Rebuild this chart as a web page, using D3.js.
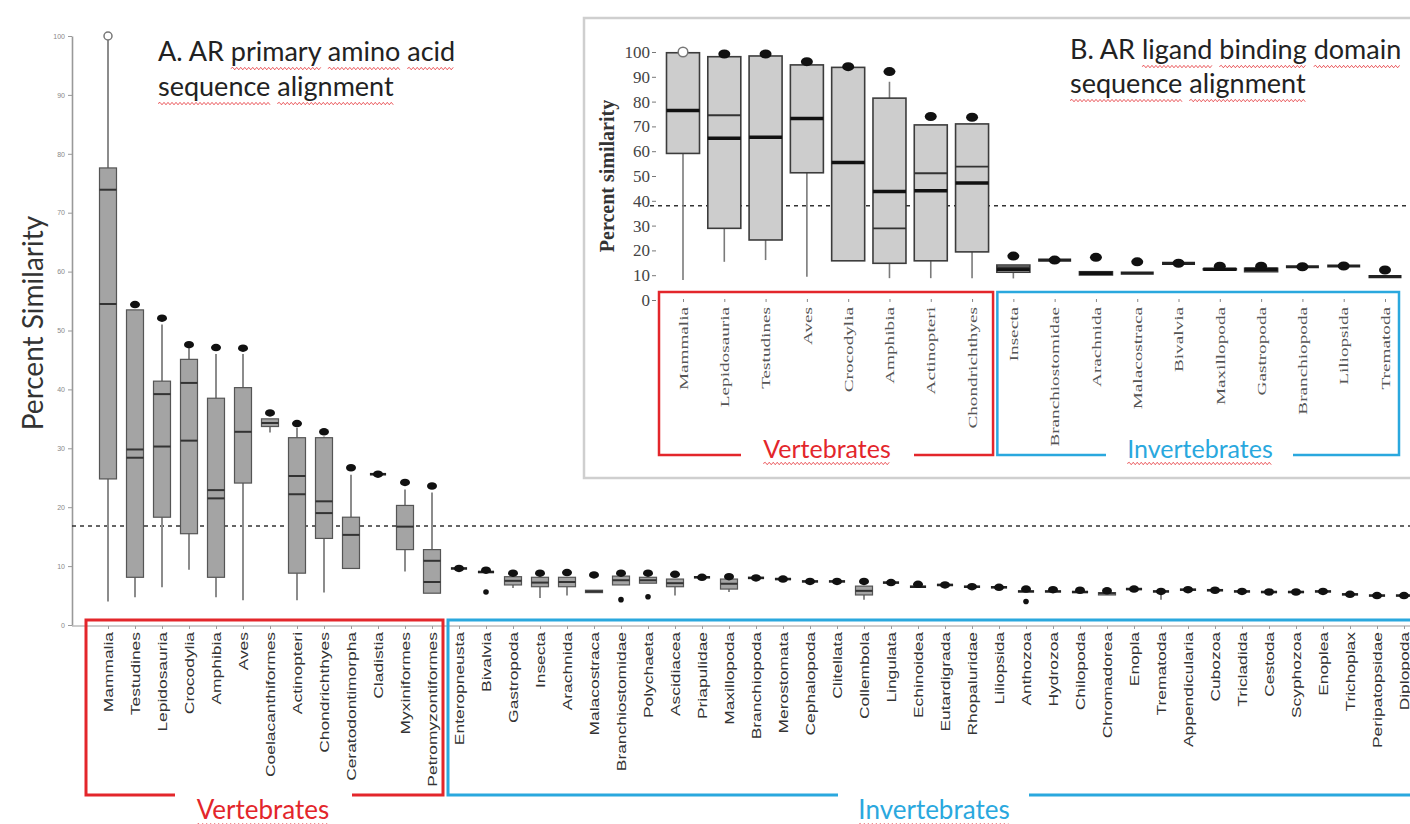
<!DOCTYPE html>
<html>
<head>
<meta charset="utf-8">
<script src="https://cdn.jsdelivr.net/npm/d3@7"></script>
<style>
  body { margin: 0; background: #fff; }
  svg { display: block; }
</style>
</head>
<body>
<div id="chart"></div>
<script>
// ---- Panel A : AR primary amino acid sequence alignment ----
var vertebratesA = ["Mammalia", "Testudines", "Lepidosauria", "Crocodylia", "Amphibia", "Aves",
  "Coelacanthiformes", "Actinopteri", "Chondrichthyes", "Ceratodontimorpha", "Cladistia",
  "Myxiniformes", "Petromyzontiformes"];
var invertebratesA = ["Enteropneusta", "Bivalvia", "Gastropoda", "Insecta", "Arachnida", "Malacostraca",
  "Branchiostomidae", "Polychaeta", "Ascidiacea", "Priapulidae", "Maxillopoda", "Branchiopoda",
  "Merostomata", "Cephalopoda", "Clitellata", "Collembola", "Lingulata", "Echinoidea", "Eutardigrada",
  "Rhopaluridae", "Liliopsida", "Anthozoa", "Hydrozoa", "Chilopoda", "Chromadorea", "Enopla",
  "Trematoda", "Appendicularia", "Cubozoa", "Tricladida", "Cestoda", "Scyphozoa", "Enoplea",
  "Trichoplax", "Peripatopsidae", "Diplopoda"];
var taxaA = vertebratesA.concat(invertebratesA);

var whiskerLoA = [4.0, 4.7, 6.4, 9.4, 4.7, 4.2, 32.7, 4.2, 5.5, 9.6, 25.6, 9.1, 5.4,
  9.6, 9.0, 6.3, 4.6, 5.0, 5.5, 6.8, 7.1, 5.0, 8.1, 5.6, 8.0, 7.8, 7.4, 7.4, 4.3, 7.2, 6.5, 6.8,
  6.5, 6.4, 5.7, 5.7, 5.6, 5.1, 6.1, 4.3, 6.0, 5.9, 5.7, 5.6, 5.6, 5.7, 5.2, 5.0, 5.0];
var q1A = [24.8, 8.1, 18.3, 15.5, 8.1, 24.1, 33.7, 8.8, 14.7, 9.6, 25.6, 12.8, 5.4,
  9.6, 9.0, 6.8, 6.5, 6.5, 5.5, 6.8, 7.1, 6.5, 8.1, 6.1, 8.0, 7.8, 7.4, 7.4, 5.1, 7.2, 6.5, 6.8,
  6.5, 6.4, 5.7, 5.7, 5.6, 5.1, 6.1, 5.7, 6.0, 5.9, 5.7, 5.6, 5.6, 5.7, 5.2, 5.0, 5.0];
var medianA = [54.5, 28.4, 30.3, 31.3, 21.5, 32.8, 34.3, 22.2, 19.0, 15.3, 25.6, 16.7, 7.3,
  9.6, 9.0, 7.5, 7.2, 7.3, 5.7, 7.6, 7.6, 7.1, 8.1, 7.0, 8.0, 7.8, 7.4, 7.4, 5.8, 7.2, 6.5, 6.8,
  6.5, 6.4, 5.7, 5.7, 5.6, 5.4, 6.1, 5.7, 6.0, 5.9, 5.7, 5.6, 5.6, 5.7, 5.2, 5.0, 5.0];
var secondLineA = [73.9, 29.8, 39.2, 41.1, 22.9, null, null, 25.3, 21.0, null, null, null, 10.9];
var q3A = [77.6, 53.5, 41.4, 45.1, 38.5, 40.3, 35.0, 31.8, 31.8, 18.3, 25.6, 20.3, 12.8,
  9.6, 9.0, 8.2, 8.1, 8.1, 5.9, 8.3, 8.1, 7.8, 8.1, 7.8, 8.0, 7.8, 7.4, 7.4, 6.6, 7.2, 6.5, 6.8,
  6.5, 6.4, 5.7, 5.7, 5.6, 5.5, 6.1, 5.7, 6.0, 5.9, 5.7, 5.6, 5.6, 5.7, 5.2, 5.0, 5.0];
var whiskerHiA = [100, 53.5, 51.0, 47.0, 46.0, 46.0, 35.0, 33.5, 32.0, 25.5, 25.6, 23.0, 22.5];
var outlierHiA = [100, 54.4, 52.1, 47.6, 47.1, 47.0, 36.0, 34.2, 32.8, 26.7, 25.6, 24.2, 23.6,
  9.6, 9.3, 8.8, 8.8, 8.9, 8.5, 8.8, 8.8, 8.6, 8.1, 8.2, 8.0, 7.8, 7.4, 7.4, 7.4, 7.2, 6.9, 6.8,
  6.5, 6.4, 6.1, 6.0, 5.9, 5.8, 6.1, 5.7, 6.0, 5.9, 5.7, 5.6, 5.6, 5.7, 5.2, 5.0, 5.0];
var outlierLoA = { "Bivalvia": 5.6, "Branchiostomidae": 4.3, "Polychaeta": 4.8, "Anthozoa": 4.0 };
var thresholdA = 16.8;
var ticksA = [0, 10, 20, 30, 40, 50, 60, 70, 80, 90, 100];

// ---- Panel B : AR ligand binding domain sequence alignment ----
var vertebratesB = ["Mammalia", "Lepidosauria", "Testudines", "Aves", "Crocodylia", "Amphibia",
  "Actinopteri", "Chondrichthyes"];
var invertebratesB = ["Insecta", "Branchiostomidae", "Arachnida", "Malacostraca", "Bivalvia",
  "Maxillopoda", "Gastropoda", "Branchiopoda", "Liliopsida", "Trematoda"];
var taxaB = vertebratesB.concat(invertebratesB);

var whiskerLoB = [8.1, 15.4, 16.1, 9.4, 15.8, 8.8, 8.8, 8.8, 8.7, 16.1, 10.1, 10.8, 14.8, 12.4, 11.4, 13.4, 13.7, 9.4];
var q1B = [59.1, 28.9, 24.2, 51.3, 15.8, 14.8, 15.8, 19.4, 11.2, 16.1, 10.1, 10.8, 14.8, 12.2, 11.4, 13.4, 13.7, 9.4];
var medianB = [76.4, 65.2, 65.6, 73.2, 55.4, 43.7, 44.1, 47.2, 12.4, 16.1, 10.8, 10.8, 14.8, 12.4, 12.4, 13.4, 13.7, 9.4];
var secondLineB = [null, 74.5, null, null, null, 28.9, 51.1, 53.8, 13.2];
var q3B = [99.7, 98.1, 98.4, 94.8, 93.8, 81.4, 70.6, 71.0, 14.1, 16.1, 11.4, 10.8, 14.8, 12.6, 12.8, 13.4, 13.7, 9.4];
var whiskerHiB = [99.7, 98.1, 98.4, 94.8, 93.8, 88.0, 70.6, 71.0];
var outlierHiB = [100, 99.2, 99.2, 96.1, 94.1, 92.1, 74.0, 73.7, 17.7, 16.1, 17.2, 15.4, 14.8, 13.6, 13.6, 13.4, 13.7, 12.1];
var thresholdB = 38.0;
var ticksB = [0, 10, 20, 30, 40, 50, 60, 70, 80, 90, 100];

var openCircle = ["Mammalia"];

var RED = "#e3262b", BLUE = "#2aa8de";

var width = 1410, height = 824;
var svg = d3.select("#chart").append("svg")
    .attr("width", width)
    .attr("height", height)
    .style("font-family", "Lato, 'Open Sans', sans-serif");

function squiggle(g, x0, x1, y, color) {
  var d = "M" + x0 + "," + y, up = true;
  for (var x = x0 + 2; x <= x1; x += 2) {
    d += " L" + x + "," + (y + (up ? -1.2 : 1.2));
    up = !up;
  }
  g.append("path").attr("d", d).attr("fill", "none")
    .attr("stroke", color).attr("stroke-width", 0.9).attr("opacity", 0.85);
}

// text line whose listed words get the spell-check wave under them
function titleLine(g, x, y, str, size, fill, marked) {
  var t = g.append("text").attr("x", x).attr("y", y)
    .attr("font-size", size).attr("fill", fill).text(str);
  var node = t.node();
  marked.forEach(function(w) {
    var i = str.indexOf(w);
    if (i < 0) return;
    var a = node.getExtentOfChar(i), b = node.getExtentOfChar(i + w.length - 1);
    squiggle(g, a.x, b.x + b.width, y + size * 0.28, RED);
  });
  return t;
}

function bracket(g, x0, x1, yTop, yBot, gap0, gap1, color, w) {
  g.append("path")
    .attr("d", "M" + gap0 + "," + yBot + "H" + x0 + "V" + yTop + "H" + x1 + "V" + yBot + "H" + gap1)
    .attr("fill", "none").attr("stroke", color).attr("stroke-width", w);
}

function groupLabel(g, x, y, str, size, color) {
  var t = g.append("text").attr("x", x).attr("y", y).attr("text-anchor", "middle")
    .attr("font-size", size).attr("fill", color).text(str);
  var b = t.node().getBBox();
  squiggle(g, b.x, b.x + b.width, y + size * 0.22, RED);
}

function drawBoxes(g, x, y, taxa, lo, q1, med, second, q3, hi, outHi, outLo, st) {
  taxa.forEach(function(name, i) {
    var cx = x(name), h = st.bw / 2;
    var top = hi[i] != null ? hi[i] : q3[i];
    if (top > q3[i]) {
      g.append("line").attr("x1", cx).attr("x2", cx).attr("y1", y(q3[i])).attr("y2", y(top))
        .attr("stroke", st.whisker).attr("stroke-width", st.ww);
    }
    if (lo[i] < q1[i]) {
      g.append("line").attr("x1", cx).attr("x2", cx).attr("y1", y(q1[i])).attr("y2", y(lo[i]))
        .attr("stroke", st.whisker).attr("stroke-width", st.ww);
    }
    if (q3[i] - q1[i] > 0.25) {
      g.append("rect").attr("x", cx - h).attr("width", st.bw)
        .attr("y", y(q3[i])).attr("height", y(q1[i]) - y(q3[i]))
        .attr("fill", st.fill).attr("stroke", st.stroke).attr("stroke-width", st.sw);
      g.append("line").attr("x1", cx - h).attr("x2", cx + h)
        .attr("y1", y(med[i])).attr("y2", y(med[i]))
        .attr("stroke", st.med).attr("stroke-width", st.mw);
    } else {
      g.append("line").attr("x1", cx - h * st.flat).attr("x2", cx + h * st.flat)
        .attr("y1", y(med[i])).attr("y2", y(med[i]))
        .attr("stroke", "#222").attr("stroke-width", st.fw);
    }
    if (second[i] != null) {
      g.append("line").attr("x1", cx - h).attr("x2", cx + h)
        .attr("y1", y(second[i])).attr("y2", y(second[i]))
        .attr("stroke", "#333").attr("stroke-width", st.thin);
    }
    var open = i === 0 && openCircle.indexOf(name) >= 0;
    g.append("ellipse").attr("cx", cx).attr("cy", y(outHi[i]))
      .attr("rx", open ? st.r * 0.8 : st.r).attr("ry", open ? st.r * 0.8 : st.r * 0.75)
      .attr("fill", open ? "#fff" : "#111")
      .attr("stroke", open ? "#777" : "none").attr("stroke-width", 1.5);
    if (outLo && outLo[name] != null) {
      g.append("circle").attr("cx", cx).attr("cy", y(outLo[name])).attr("r", 2.8).attr("fill", "#111");
    }
  });
}

// ================= Panel A =================
var xA = d3.scalePoint().domain(taxaA).range([108, 1404]);
var yA = d3.scaleLinear().domain([0, 100]).range([625, 36]);
var gA = svg.append("g");

var axA = gA.append("g").attr("transform", "translate(72,0)")
  .call(d3.axisLeft(yA).tickValues(ticksA).tickSize(4).tickSizeOuter(0));
axA.select(".domain").attr("stroke", "#999").attr("stroke-width", 1.6);
axA.selectAll(".tick line").attr("stroke", "#999");
axA.selectAll(".tick text").attr("font-size", 7).attr("fill", "#888");

gA.append("line").attr("x1", 72).attr("x2", width).attr("y1", yA(0) + 1).attr("y2", yA(0) + 1)
  .attr("stroke", "#999").attr("stroke-width", 1.2);

gA.append("text")
  .attr("transform", "translate(43,323) rotate(-90)")
  .attr("text-anchor", "middle").attr("font-size", 28).attr("fill", "#333")
  .text("Percent Similarity");

gA.append("line").attr("x1", 72).attr("x2", width)
  .attr("y1", yA(thresholdA)).attr("y2", yA(thresholdA))
  .attr("stroke", "#333").attr("stroke-width", 1.6).attr("stroke-dasharray", "4,4");

drawBoxes(gA, xA, yA, taxaA, whiskerLoA, q1A, medianA, secondLineA, q3A, whiskerHiA, outlierHiA, outlierLoA,
  { bw: 17, fill: "#a4a4a4", stroke: "#555", sw: 1.2, whisker: "#8c8c8c", ww: 2, med: "#333", mw: 2,
    thin: 2, r: 5, flat: 0.95, fw: 2.6 });

var axXA = gA.append("g").attr("transform", "translate(0," + (yA(0) + 1) + ")")
  .call(d3.axisBottom(xA).tickSize(3).tickSizeOuter(0));
axXA.select(".domain").remove();
axXA.selectAll(".tick line").attr("stroke", "#999");
axXA.selectAll(".tick text")
  .attr("x", 0).attr("y", 0).attr("dy", "0.35em")
  .attr("text-anchor", "end").attr("font-size", 12).attr("fill", "#333")
  .attr("transform", "translate(0,6) rotate(-90) scale(1.45,1)");

var vL = xA(vertebratesA[0]) - 22, vR = xA(vertebratesA[vertebratesA.length - 1]) + 11;
var iL = xA(invertebratesA[0]) - 11;
bracket(gA, vL, vR, 620, 795, 175, 352, RED, 3);
bracket(gA, iL, width + 10, 620, 795, 838, 1029, BLUE, 3);
groupLabel(gA, 263, 819, "Vertebrates", 26, RED);
groupLabel(gA, 934, 819, "Invertebrates", 26, BLUE);

titleLine(gA, 158, 61, "A. AR primary amino acid", 27, "#222", ["primary", "amino", "acid"]);
titleLine(gA, 158, 96, "sequence alignment", 27, "#222", ["sequence", "alignment"]);

// ================= Panel B (inset) =================
var gB = svg.append("g");
gB.append("rect").attr("x", 584).attr("y", 18).attr("width", 860).attr("height", 460)
  .attr("fill", "#fff").attr("stroke", "#cfcfcf").attr("stroke-width", 2.5);

var xB = d3.scalePoint().domain(taxaB).range([683, 1385]);
var yB = d3.scaleLinear().domain([0, 100]).range([300, 52]);

var axB = gB.append("g").attr("transform", "translate(656,0)")
  .call(d3.axisLeft(yB).tickValues(ticksB).tickSize(4).tickSizeOuter(0).tickPadding(2));
axB.select(".domain").remove();
axB.selectAll(".tick line").attr("stroke", "#777");
axB.selectAll(".tick text").attr("font-family", "'Liberation Serif', serif")
  .attr("font-size", 17).attr("fill", "#444");

gB.append("text")
  .attr("transform", "translate(614,176) rotate(-90)")
  .attr("text-anchor", "middle").attr("font-family", "'Liberation Serif', serif")
  .attr("font-weight", "bold").attr("font-size", 20).attr("fill", "#333")
  .text("Percent similarity");

gB.append("line").attr("x1", 650).attr("x2", width)
  .attr("y1", yB(thresholdB)).attr("y2", yB(thresholdB))
  .attr("stroke", "#333").attr("stroke-width", 1.5).attr("stroke-dasharray", "4,4");

drawBoxes(gB, xB, yB, taxaB, whiskerLoB, q1B, medianB, secondLineB, q3B, whiskerHiB, outlierHiB, null,
  { bw: 33, fill: "#cdcdcd", stroke: "#3c3c3c", sw: 1.6, whisker: "#7a7a7a", ww: 1.6, med: "#111", mw: 3.5,
    thin: 1.8, r: 6, flat: 1.0, fw: 3.2 });

var axXB = gB.append("g").attr("transform", "translate(0,299)")
  .call(d3.axisBottom(xB).tickSize(3).tickSizeOuter(0));
axXB.select(".domain").remove();
axXB.selectAll(".tick line").attr("stroke", "#888");
axXB.selectAll(".tick text")
  .attr("x", 0).attr("y", 0).attr("dy", "0.35em")
  .attr("text-anchor", "end").attr("font-family", "'Liberation Serif', serif")
  .attr("font-size", 12).attr("fill", "#555")
  .attr("transform", "translate(0,8) rotate(-90) scale(1.6,1)");

var bvL = xB(vertebratesB[0]) - 24, bvR = xB(vertebratesB[vertebratesB.length - 1]) + 21;
var biL = xB(invertebratesB[0]) - 16, biR = xB(invertebratesB[invertebratesB.length - 1]) + 14;
bracket(gB, bvL, bvR, 292, 455, 741, 914, RED, 2.5);
bracket(gB, biL, biR, 292, 455, 1106, 1293, BLUE, 2.5);
groupLabel(gB, 827, 458, "Vertebrates", 25, RED);
groupLabel(gB, 1200, 458, "Invertebrates", 25, BLUE);

titleLine(gB, 1070, 59, "B. AR ligand binding domain", 27, "#222", ["ligand", "binding", "domain"]);
titleLine(gB, 1070, 93, "sequence alignment", 27, "#222", ["sequence", "alignment"]);
</script>
</body>
</html>
